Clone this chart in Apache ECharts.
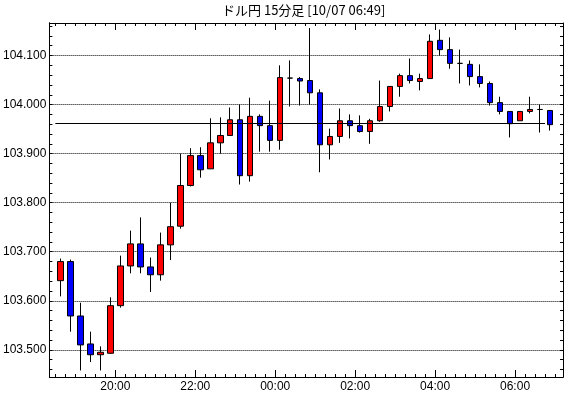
<!DOCTYPE html>
<html>
<head>
<meta charset="utf-8">
<script src="https://cdn.jsdelivr.net/npm/echarts@6/dist/echarts.min.js"></script>
<style>
html, body { margin: 0; padding: 0; background: #fff; }
#chart { width: 570px; height: 398px; }
</style>
</head>
<body>
<div id="chart"></div>
<script>
// 15-minute bars, start time of each bar
var times = ['18:30','18:45','19:00','19:15','19:30','19:45','20:00','20:15','20:30','20:45',
	'21:00','21:15','21:30','21:45','22:00','22:15','22:30','22:45','23:00','23:15',
	'23:30','23:45','00:00','00:15','00:30','00:45','01:00','01:15','01:30','01:45',
	'02:00','02:15','02:30','02:45','03:00','03:15','03:30','03:45','04:00','04:15',
	'04:30','04:45','05:00','05:15','05:30','05:45','06:00','06:15','06:30','06:45'];
var opens = [103.641,103.680,103.569,103.512,103.490,103.493,103.590,103.671,103.716,103.669,
	103.653,103.714,103.752,103.835,103.896,103.869,103.922,103.937,103.969,103.855,
	103.976,103.957,103.927,104.054,104.053,104.049,104.024,103.918,103.935,103.967,
	103.957,103.945,103.967,103.996,104.037,104.059,104.047,104.053,104.131,104.112,
	104.084,104.082,104.057,104.043,104.004,103.986,103.967,103.986,103.990,103.988];
var closes = [103.680,103.569,103.510,103.490,103.495,103.590,103.671,103.716,103.669,103.653,
	103.714,103.751,103.835,103.896,103.867,103.922,103.937,103.969,103.855,103.976,
	103.957,103.927,104.055,104.054,104.048,104.024,103.918,103.935,103.967,103.957,
	103.945,103.967,103.996,104.037,104.059,104.049,104.053,104.129,104.112,104.084,
	104.084,104.057,104.043,104.004,103.986,103.961,103.986,103.990,103.990,103.959];
var lows = [103.609,103.537,103.458,103.475,103.458,103.492,103.586,103.656,103.656,103.618,
	103.641,103.683,103.747,103.833,103.851,103.869,103.900,103.937,103.837,103.843,
	103.904,103.904,103.908,103.996,103.998,104.000,103.862,103.888,103.922,103.931,
	103.943,103.920,103.965,103.986,104.016,104.043,104.029,104.053,104.100,104.073,
	104.043,104.039,104.035,103.998,103.980,103.933,103.967,103.982,103.943,103.947];
var highs = [103.686,103.684,103.596,103.537,103.507,103.607,103.692,103.743,103.770,103.688,
	103.739,103.800,103.900,103.911,103.913,103.972,103.974,103.994,104.000,104.014,
	103.980,104.008,104.080,104.090,104.056,104.156,104.031,103.951,103.992,103.980,
	103.978,103.971,104.049,104.037,104.063,104.094,104.063,104.143,104.153,104.137,
	104.112,104.090,104.082,104.047,104.016,103.986,103.986,104.016,104.000,103.988];
var lastPrice = 103.961;
var xTickLabels = ['20:00','22:00','00:00','02:00','04:00','06:00'];
var yTickLabels = ['103.500','103.600','103.700','103.800','103.900','104.000','104.100'];

// minutes after 18:00
function toMin(t) {
	var p = t.split(':');
	return ((+p[0]) * 60 + (+p[1]) - 18 * 60 + 1440) % 1440;
}
function toTime(m) {
	var t = (m + 18 * 60) % 1440;
	var h = Math.floor(t / 60), mm = t % 60;
	return (h < 10 ? '0' : '') + h + ':' + (mm < 10 ? '0' : '') + mm;
}

var candles = times.map(function (t, i) {
	return [toMin(t) + 7.5, opens[i], closes[i], lows[i], highs[i]];
});

var xMin = 21, xMax = 792;
var yMin = 103.4446, yMax = 104.1663;
var xMajor = xTickLabels.map(toMin);
var xMinor = [];
for (var m = 30; m <= 780; m += 15) xMinor.push(m);
var yMajor = yTickLabels.map(Number);
var yMinor = [];
for (var k = 0; k <= 36; k++) yMinor.push(+(103.46 + k * 0.02).toFixed(2));

var labelFont = { color: '#000', fontSize: 12, fontFamily: '"Liberation Sans Narrow", "Liberation Sans", sans-serif' };
var lineBlack = { show: true, onZero: false, lineStyle: { color: '#000', width: 1 } };

function xAx(pos, ticks, len, labels) {
	return {
		type: 'value', position: pos, min: xMin, max: xMax,
		axisLine: lineBlack,
		axisTick: { show: true, inside: true, length: len, customValues: ticks, lineStyle: { color: '#000' } },
		axisLabel: labels ? Object.assign({ show: true, margin: 4, customValues: xMajor, formatter: function (v) { return toTime(v); } }, labelFont) : { show: false },
		splitLine: { show: false }
	};
}
function yAx(pos, ticks, len, labels, grid) {
	return {
		type: 'value', position: pos, min: yMin, max: yMax,
		axisLine: lineBlack,
		axisTick: { show: true, inside: true, length: len, customValues: ticks, lineStyle: { color: '#000' } },
		axisLabel: labels ? Object.assign({ show: true, margin: 3, customValues: yMajor, formatter: function (v) { return v.toFixed(3); } }, labelFont) : { show: false },
		splitLine: grid ? { show: true, lineStyle: { color: '#000', width: 1, type: [1, 1] } } : { show: false }
	};
}

var chart = echarts.init(document.getElementById('chart'));
chart.setOption({
	animation: false,
	backgroundColor: '#fff',
	grid: { left: 49, right: 7, top: 23, bottom: 21 },
	graphic: [{
		type: 'text', left: 222, top: 4,
		style: { text: 'ドル円 15分足 [10/07 06:49]', fill: '#000', font: '13px "Noto Sans CJK JP"' }
	}],
	xAxis: [
		xAx('bottom', xMajor, 7, true),
		xAx('bottom', xMinor, 3, false),
		xAx('top', xMajor, 7, false),
		xAx('top', xMinor, 3, false)
	],
	yAxis: [
		yAx('left', yMajor, 3, true, true),
		yAx('left', yMinor, 3, false, false),
		yAx('right', yMinor, 3, false, false)
	],
	series: [{
		type: 'candlestick',
		xAxisIndex: 0,
		yAxisIndex: 0,
		barWidth: 6,
		data: candles,
		itemStyle: {
			color: '#ff0000', color0: '#0000ff',
			borderColor: '#000', borderColor0: '#000', borderColorDoji: '#000', borderWidth: 1
		},
		markLine: {
			silent: true, symbol: 'none', label: { show: false },
			lineStyle: { color: '#000', width: 1, type: 'solid' },
			data: [[
				{ coord: [toMin(times[0]), lastPrice] },
				{ coord: [toMin(times[times.length - 1]), lastPrice] }
			]]
		}
	}]
});
</script>
</body>
</html>
